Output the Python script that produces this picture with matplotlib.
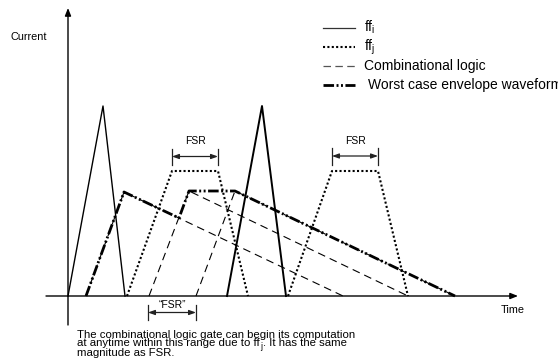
import matplotlib
matplotlib.use("Agg")
import matplotlib.pyplot as plt
from matplotlib.transforms import offset_copy

plt.rcParams['font.family'] = ['Liberation Sans', 'DejaVu Sans']
plt.rcParams['mathtext.fontset'] = 'custom'
plt.rcParams['mathtext.rm'] = 'Liberation Sans'
plt.rcParams['mathtext.it'] = 'Liberation Sans:italic'

# waveform vertices (time, current)
ffi_1_t = [0, 35, 57]
ffi_1_i = [0, 190, 0]
ffi_2_t = [159, 194, 218]
ffi_2_i = [0, 190, 0]

ffj_1_t = [59, 104, 150, 180]
ffj_1_i = [0, 125, 125, 0]
ffj_2_t = [220, 264, 310, 340]
ffj_2_i = [0, 125, 125, 0]

comb_1_t = [18, 56, 275]
comb_1_i = [0, 104, 0]
comb_2_t = [81, 121, 340]
comb_2_i = [0, 105, 0]
comb_3_t = [128, 167, 387]
comb_3_i = [0, 105, 0]

env_t = [18, 56, 111, 121, 167, 387]
env_i = [0, 104, 78, 105, 105, 0]

legend_labels = [r'ff$_{\rm i}$', r'ff$_{\rm j}$', 'Combinational logic',
                 'Worst case envelope waveform']
# caption; line 2 is split around the subscript
caption_1 = 'The combinational logic gate can begin its computation'
caption_2 = ['at anytime within this range due to ff', 'j', '. It has the same']
caption_3 = 'magnitude as FSR.'

fig = plt.figure(figsize=(5.58, 3.62), dpi=100)
ax = fig.add_axes([0, 0, 1, 1])
ax.set_xlim(-68, 490)
ax.set_ylim(-66, 296)
ax.axis('off')

solid = dict(color='k', lw=1.0, ls='-')
dotted = dict(color='k', lw=1.5, ls=(0, (1, 1.1)))
dashed = dict(color='k', lw=0.8, ls=(0, (7, 4.5)))
dashdot = dict(color='k', lw=2.0, ls=(0, (3.8, 0.9, 0.7, 0.9, 0.7, 0.9)))

# axes with arrows
arr = dict(arrowstyle='-|>,head_length=0.45,head_width=0.18', lw=1.0,
           color='k', shrinkA=0, shrinkB=0)
ax.annotate('', xy=(450, 0), xytext=(-22, 0), arrowprops=arr)
ax.annotate('', xy=(0, 288), xytext=(0, -29), arrowprops=arr)

ax.plot(comb_1_t, comb_1_i, **dashed)
ax.plot(comb_2_t, comb_2_i, **dashed)
ax.plot(comb_3_t, comb_3_i, **dashed)
ax.plot(ffj_1_t, ffj_1_i, **dotted)
ax.plot(ffj_2_t, ffj_2_i, **dotted)
ax.plot(ffi_1_t, ffi_1_i, **solid)
ax.plot(ffi_2_t, ffi_2_i, color='k', lw=1.4)
ax.plot(env_t, env_i, **dashdot)

# legend drawn by hand
styles = [dict(color='#333', lw=0.9, ls='-'), dotted,
          dict(color='#555', lw=0.9, ls=(0, (6, 3.5))), dashdot]
leg_y = [268, 249, 230, 211]
for lab, st, y in zip(legend_labels, styles, leg_y):
    ax.plot([255, 287], [y, y], **st)
    x0 = 300 if 'Worst' in lab else 296
    ax.text(x0, y - 4, lab, fontsize=10, va='baseline', ha='left')

ax.text(-39, 259, 'Current', fontsize=7.8, ha='center', va='center')
ax.text(445, -14, 'Time', fontsize=7.8, ha='center', va='center')

# FSR markers
fsr_arr = dict(arrowstyle='<|-|>,head_length=0.5,head_width=0.18', lw=0.9,
               color='#222', shrinkA=0, shrinkB=0, mutation_scale=8)


def fsr(x0, x1, y, ty, label, tlo, thi):
    ax.annotate('', xy=(x1, y), xytext=(x0, y), arrowprops=fsr_arr)
    ax.plot([x0, x0], [tlo, thi], color='#222', lw=0.9)
    ax.plot([x1, x1], [tlo, thi], color='#222', lw=0.9)
    ax.text((x0 + x1) / 2, ty, label, fontsize=7.5, ha='center', va='center')


fsr(104, 150, 139.5, 155, 'FSR', 131, 147)
fsr(264, 310, 140, 155, 'FSR', 131, 148)
fsr(80, 128, -16.5, -9, '\u201cFSR\u201d', -24, -9)

fs = 8.2
ax.text(9, -41.5, caption_1, fontsize=fs, ha='left', va='baseline')
ax.text(9, -59.5, caption_3, fontsize=fs, ha='left', va='baseline')

renderer = fig.canvas.get_renderer()
t1 = ax.text(9, -50.5, caption_2[0], fontsize=fs, ha='left', va='baseline')
w1 = t1.get_window_extent(renderer).width * 72 / fig.dpi
tr = offset_copy(ax.transData, fig=fig, x=w1 + 0.5, y=-2.0, units='points')
t2 = ax.text(9, -50.5, caption_2[1], fontsize=fs * 0.75, ha='left',
             va='baseline', transform=tr)
w2 = t2.get_window_extent(renderer).width * 72 / fig.dpi
tr3 = offset_copy(ax.transData, fig=fig, x=w1 + w2 + 1.0, y=0, units='points')
ax.text(9, -50.5, caption_2[2], fontsize=fs, ha='left', va='baseline',
        transform=tr3)

fig.savefig('out.png', dpi=100)
